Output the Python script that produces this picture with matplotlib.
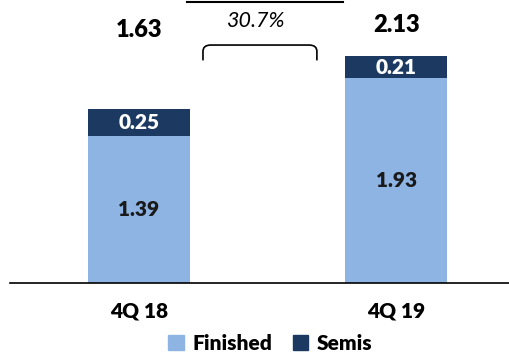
import matplotlib
matplotlib.use('Agg')
import matplotlib.pyplot as plt
from matplotlib.path import Path
from matplotlib.patches import PathPatch, Patch

plt.rcParams['font.family'] = ['Lato', 'DejaVu Sans']

# Дані
quarters = ['4Q 18', '4Q 19']
finished = [1.39, 1.93]
semis = [0.25, 0.21]
totals = ['1.63', '2.13']
growth = '30.7%'

c_fin = '#8EB4E3'
c_semi = '#1B3961'
wt = 'heavy'

fig = plt.figure(figsize=(5.1, 3.54), dpi=100)
ax = fig.add_axes([10 / 510, 71 / 354, 500 / 510, 283 / 354])

x = list(range(len(quarters)))
w = 0.396
ax.bar(x, finished, width=w, color=c_fin, label='Finished')
ax.bar(x, semis, width=w, bottom=finished, color=c_semi, label='Semis')

for i in x:
    ax.text(i, finished[i] / 2, f'{finished[i]:.2f}', ha='center', va='center',
            fontsize=15, fontweight=wt, color='#1a1a1a')
    ax.text(i, finished[i] + semis[i] / 2, f'{semis[i]:.2f}', ha='center', va='center',
            fontsize=15, fontweight=wt, color='white')

# підсумки над стовпчиками
ax.text(0, 2.39, totals[0], ha='center', va='center', fontsize=17, fontweight=wt)
ax.text(1, 2.43, totals[1], ha='center', va='center', fontsize=17, fontweight=wt)

# дужка та відсоток зростання
ax.text(0.45, 2.47, growth, ha='center', va='center', fontsize=15.5, style='italic')
x0, x1, yb, yt, r = 0.2485, 0.691, 2.10, 2.245, 0.03
verts = [(x0, yb), (x0, yt - 0.06), (x0, yt), (x0 + r, yt),
         (x1 - r, yt), (x1, yt), (x1, yt - 0.06), (x1, yb)]
codes = [Path.MOVETO, Path.LINETO, Path.CURVE3, Path.CURVE3,
         Path.LINETO, Path.CURVE3, Path.CURVE3, Path.LINETO]
ax.add_patch(PathPatch(Path(verts, codes), fill=False, lw=1.2, color='black'))
ax.plot([0.186, 0.792], [2.652, 2.652], color='black', lw=1.5, clip_on=False)

ax.set_xlim(-0.501, 1.441)
ax.set_ylim(0, 2.67)
ax.set_xticks(x)
ax.set_xticklabels(quarters, fontsize=15, fontweight=wt)
ax.tick_params(axis='x', length=0, pad=13)
ax.set_yticks([])
for s in ['top', 'left', 'right']:
    ax.spines[s].set_visible(False)
ax.spines['bottom'].set_linewidth(1.2)

handles = [Patch(color=c_fin, label='Finished'), Patch(color=c_semi, label='Semis')]
leg = fig.legend(handles=handles, loc='lower center', bbox_to_anchor=(0.53, -0.05), ncol=2,
                 frameon=False, handlelength=0.75, handleheight=0.75, handletextpad=0.4,
                 columnspacing=1.0, prop={'size': 15, 'weight': wt})

fig.savefig('out.png', dpi=100)
